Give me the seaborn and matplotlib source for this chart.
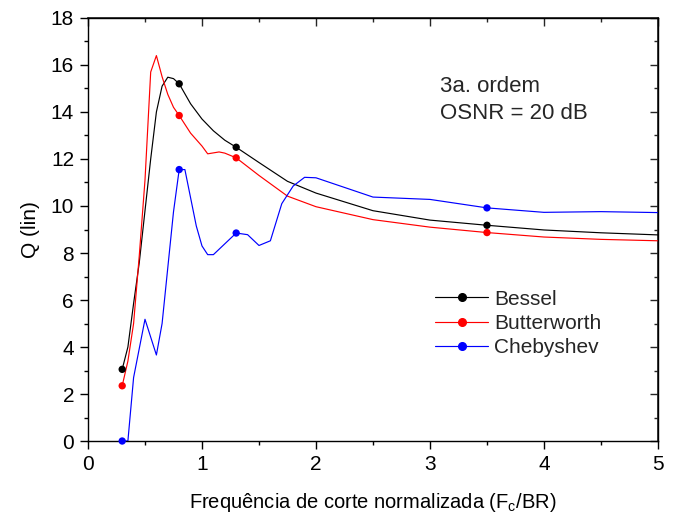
import numpy as np
import pandas as pd
import matplotlib
matplotlib.use("Agg")
import matplotlib.pyplot as plt
from matplotlib.ticker import MultipleLocator
from matplotlib.lines import Line2D
import seaborn as sns

# ---- data ----
bessel_x = [0.3, 0.35, 0.4, 0.45, 0.5, 0.55, 0.6, 0.65, 0.7, 0.75, 0.8, 0.9, 1.0, 1.1, 1.2, 1.3,
            1.5, 1.75, 2.0, 2.5, 3.0, 3.5, 4.0, 4.5, 5.0]
bessel_y = [3.05, 4.0, 5.85, 7.6, 9.8, 12.0, 14.0, 15.1, 15.48, 15.42, 15.2, 14.35, 13.7, 13.2, 12.8, 12.5,
            11.85, 11.05, 10.55, 9.8, 9.4, 9.18, 8.98, 8.86, 8.77]

butter_x = [0.3, 0.35, 0.4, 0.45, 0.5, 0.55, 0.6, 0.65, 0.7, 0.75, 0.8, 0.9, 1.0, 1.05, 1.15, 1.2, 1.3,
            1.5, 1.75, 2.0, 2.5, 3.0, 3.5, 4.0, 4.5, 5.0]
butter_y = [2.35, 3.4, 5.0, 7.9, 11.1, 15.7, 16.4, 15.5, 14.75, 14.2, 13.85, 13.1, 12.55, 12.22, 12.3, 12.25, 12.05,
            11.3, 10.42, 9.97, 9.42, 9.1, 8.87, 8.68, 8.58, 8.52]

cheby_x = [0.3, 0.35, 0.4, 0.5, 0.6, 0.65, 0.75, 0.8, 0.85, 0.95, 1.0, 1.05, 1.1, 1.3, 1.4, 1.5, 1.6,
           1.7, 1.8, 1.9, 2.0, 2.5, 3.0, 3.5, 4.0, 4.5, 5.0]
cheby_y = [0.0, 0.0, 2.7, 5.18, 3.66, 5.0, 9.75, 11.55, 11.55, 9.15, 8.3, 7.93, 7.93, 8.85, 8.78, 8.32, 8.52,
           10.1, 10.85, 11.22, 11.2, 10.38, 10.28, 9.92, 9.73, 9.76, 9.72]

marker_x = [0.3, 0.8, 1.3, 3.5]

series_names = ["Bessel", "Butterworth", "Chebyshev"]
series_colors = ["black", "red", "blue"]
series_data = [(bessel_x, bessel_y), (butter_x, butter_y), (cheby_x, cheby_y)]

xlabel = "Frequência de corte normalizada (F$_{\\mathregular{c}}$/BR)"
ylabel = "Q (lin)"
annot = "3a. ordem\nOSNR = 20 dB"

# ---- style ----
sns.set_theme(style="ticks")
plt.rcParams["font.family"] = ["Liberation Sans", "DejaVu Sans"]
plt.rcParams["mathtext.default"] = "regular"

fig = plt.figure(figsize=(6.79, 5.14), dpi=100)
ax = fig.add_axes([0.1296, 0.142, 0.8394, 0.823])

frames = []
for name, (xs, ys) in zip(series_names, series_data):
    frames.append(pd.DataFrame({"x": xs, "y": ys, "Filtro": name}))
df = pd.concat(frames, ignore_index=True)

palette = dict(zip(series_names, series_colors))
sns.lineplot(data=df, x="x", y="y", hue="Filtro", palette=palette, sort=False,
             estimator=None, linewidth=0.85, legend=False, ax=ax)

mk = df[df["x"].isin(marker_x)]
sns.scatterplot(data=mk, x="x", y="y", hue="Filtro", palette=palette, s=28,
                edgecolor="none", legend=False, ax=ax, zorder=5, clip_on=False)

ax.set_xlim(0, 5)
ax.set_ylim(0, 18)
ax.xaxis.set_major_locator(MultipleLocator(1))
ax.xaxis.set_minor_locator(MultipleLocator(0.5))
ax.yaxis.set_major_locator(MultipleLocator(2))
ax.yaxis.set_minor_locator(MultipleLocator(1))

for sp in ax.spines.values():
    sp.set_linewidth(1.0)
    sp.set_color("black")

ax.tick_params(which="both", direction="out", top=False, right=False,
               labelsize=15, colors="black", width=1.0)
ax.tick_params(which="major", length=6, pad=4)
ax.tick_params(which="minor", length=3)

secx = ax.secondary_xaxis("top")
secx.xaxis.set_major_locator(MultipleLocator(1))
secx.xaxis.set_minor_locator(MultipleLocator(0.5))
secx.tick_params(which="both", direction="in", labeltop=False, width=1.0)
secx.tick_params(which="major", length=6)
secx.tick_params(which="minor", length=3)

secy = ax.secondary_yaxis("right")
secy.yaxis.set_major_locator(MultipleLocator(2))
secy.yaxis.set_minor_locator(MultipleLocator(1))
secy.tick_params(which="both", direction="in", labelright=False, width=1.0)
secy.tick_params(which="major", length=6)
secy.tick_params(which="minor", length=3)

ax.set_xlabel(xlabel, fontsize=14.5, labelpad=12, color="black")
ax.set_ylabel(ylabel, fontsize=15, labelpad=8, color="black")

ax.text(0.617, 0.806, annot, transform=ax.transAxes, fontsize=16,
        va="center", ha="left", linespacing=1.33)

handles = [Line2D([], [], color=c, linewidth=0.85, marker="o", markersize=5.5)
           for c in series_colors]
ax.legend(handles, series_names, loc="center left", bbox_to_anchor=(0.609, 0.278),
          frameon=False, fontsize=15, handlelength=2.55, handletextpad=0.29,
          labelspacing=0.25, borderpad=0, borderaxespad=0, numpoints=1)

fig.savefig("out.png", dpi=100)
